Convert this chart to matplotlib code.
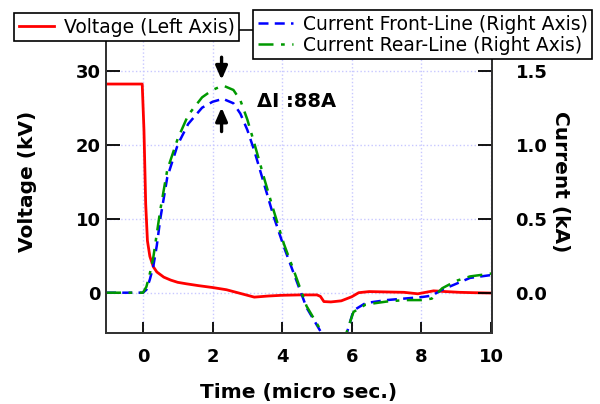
import numpy as np
import matplotlib
matplotlib.use("Agg")
from matplotlib import pyplot as plt

plt.rcParams['font.family'] = ['DejaVu Sans']

# voltage trace (kV, left axis)
t_volt = [-1.06, -0.02, 0.03, 0.08, 0.13, 0.2, 0.3, 0.4, 0.6, 0.8, 1.0, 1.25, 1.6, 2.0,
          2.4, 2.8, 3.2, 3.6, 4.0, 4.5, 5.0, 5.1, 5.2, 5.4, 5.7, 6.0, 6.2, 6.5, 7.0,
          7.5, 7.9, 8.35, 8.7, 9.1, 9.5, 10.03]
volt = [28.2, 28.2, 22.0, 12.0, 7.0, 4.9, 3.5, 2.8, 2.1, 1.7, 1.4, 1.2, 0.95, 0.7,
        0.4, -0.1, -0.6, -0.45, -0.35, -0.3, -0.3, -0.5, -1.2, -1.25, -1.1, -0.55, 0.0, 0.15, 0.1,
        0.05, -0.15, 0.25, 0.15, 0.05, 0.0, -0.05]

# current traces (kA, right axis)
t_cur = [-1.06, 0.0, 0.1, 0.2, 0.3, 0.4, 0.5, 0.7, 1.0, 1.3, 1.7, 2.0, 2.3, 2.6, 2.8,
         3.0, 3.2, 3.5, 3.75, 4.05, 4.35, 4.7, 5.15, 5.5, 5.85, 6.05, 6.4, 7.0, 7.5,
         8.0, 8.3, 8.6, 9.0, 9.4, 10.03]
cur_front = [0, 0, 0.02, 0.09, 0.18, 0.32, 0.50, 0.78, 1.00, 1.14, 1.25, 1.29, 1.31, 1.28, 1.21,
             1.10, 0.96, 0.72, 0.52, 0.31, 0.12, -0.10, -0.28, -0.45, -0.28, -0.12, -0.07, -0.05, -0.04,
             -0.03, -0.02, 0.02, 0.06, 0.10, 0.12]
cur_rear = [0, 0, 0.04, 0.13, 0.24, 0.40, 0.56, 0.83, 1.04, 1.20, 1.32, 1.37, 1.40, 1.37, 1.30,
            1.17, 1.01, 0.76, 0.56, 0.33, 0.14, -0.09, -0.27, -0.45, -0.27, -0.13, -0.08, -0.06, -0.05,
            -0.05, -0.04, 0.03, 0.08, 0.11, 0.13]

x_ticks = [0, 2, 4, 6, 8, 10]
v_ticks = [0, 10, 20, 30]
i_ticks = [0.0, 0.5, 1.0, 1.5]

fig = plt.figure(figsize=(6, 4.04), dpi=100)
ax = fig.add_axes([0.1767, 0.1757, 0.8200 - 0.1767, 0.9257 - 0.1757])
ax2 = ax.twinx()

ax.set_xlim(-1.06, 10.03)
ax.set_ylim(-5.45, 35.5)
ax2.set_ylim(-5.45 / 20, 35.5 / 20)

# grid
for x in x_ticks:
    ax.axvline(x, color='#c8c8ff', ls=':', lw=1, zorder=0)
for y in v_ticks:
    ax.axhline(y, color='#c8c8ff', ls=':', lw=1, zorder=0)

l1, = ax.plot(t_volt, volt, color='#ff0000', lw=2, label='Voltage (Left Axis)')
l2, = ax2.plot(t_cur, cur_front, color='#0000ff', lw=1.8, ls=(0, (4, 2.5)),
               label='Current Front-Line (Right Axis)')
l3, = ax2.plot(t_cur, cur_rear, color='#009900', lw=1.8, ls=(0, (6, 3, 1.5, 3)),
               label='Current Rear-Line (Right Axis)')

for a in (ax, ax2):
    for s in a.spines.values():
        s.set_linewidth(1.3)
        s.set_color('#333333')

ax.set_xticks(x_ticks)
ax.set_yticks(v_ticks)
ax2.set_yticks(i_ticks)
ax2.set_yticklabels(['0.0', '0.5', '1.0', '1.5'])
ax.tick_params(axis='x', direction='in', length=8, width=1.3, pad=11, labelsize=13)
ax.tick_params(axis='y', direction='in', length=10, width=1.3, pad=4, labelsize=13)
ax2.tick_params(axis='y', direction='in', length=10, width=1.3, pad=17, labelsize=13)
for lab in ax.get_xticklabels() + ax.get_yticklabels() + ax2.get_yticklabels():
    lab.set_fontweight('bold')

ax.set_xlabel('Time (micro sec.)', fontsize=14.5, fontweight='bold', labelpad=12)
ax.set_ylabel('Voltage (kV)', fontsize=14.5, fontweight='bold', labelpad=28)
ax2.set_ylabel('Current (kA)', fontsize=14.5, fontweight='bold', rotation=270, labelpad=16)

# peak difference arrows
ax2.annotate('', xy=(2.26, 1.42), xytext=(2.26, 1.61),
             arrowprops=dict(arrowstyle='-|>,head_length=0.8,head_width=0.35', color='black', lw=2.4))
ax2.annotate('', xy=(2.26, 1.27), xytext=(2.26, 1.07),
             arrowprops=dict(arrowstyle='-|>,head_length=0.8,head_width=0.35', color='black', lw=2.4))
ax.text(3.28, 25.9, 'ΔI :88A', fontsize=14, fontweight='bold', va='center', ha='left')

leg_kw = dict(loc='upper left', fontsize=13.5, fancybox=False, edgecolor='black', framealpha=1,
              borderaxespad=0, borderpad=0.25, handlelength=1.9, handletextpad=0.5,
              labelspacing=0.1)
leg1 = fig.legend(handles=[l1], bbox_to_anchor=(0.0233, 0.968), **leg_kw)
leg2 = fig.legend(handles=[l2, l3], bbox_to_anchor=(0.4217, 0.975), **leg_kw)
for lg in (leg1, leg2):
    lg.get_frame().set_linewidth(1.2)

fig.savefig('out.png', dpi=100)
